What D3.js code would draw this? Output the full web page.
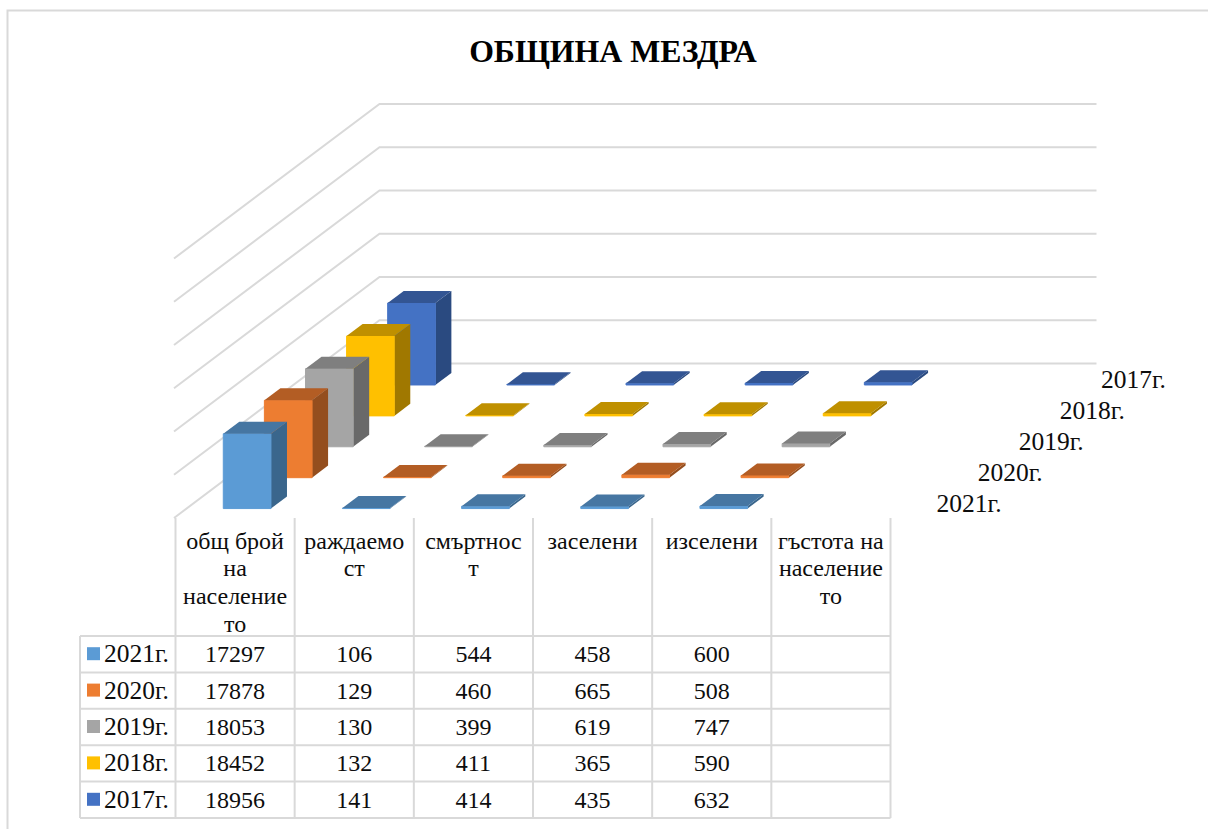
<!DOCTYPE html>
<html><head><meta charset="utf-8">
<script src="https://cdn.jsdelivr.net/npm/d3@7"></script>
<style>html,body{margin:0;padding:0;background:#fff;overflow:hidden}svg{display:block}text{font-family:"Liberation Serif","Times New Roman",serif;fill:#0d0d0d}</style>
</head><body><svg id="c" width="1208" height="829"></svg>
<script>
const title = "ОБЩИНА МЕЗДРА";
const categories = ["общ брой на население то","раждаемо ст","смъртнос т","заселени","изселени","гъстота на население то"];
const categoryLines = [["общ брой","на","население","то"],["раждаемо","ст"],["смъртнос","т"],["заселени"],["изселени"],["гъстота на","население","то"]];
const years = ["2021г.","2020г.","2019г.","2018г.","2017г."];
const v2021 = [17297,106,544,458,600,null];
const v2020 = [17878,129,460,665,508,null];
const v2019 = [18053,130,399,619,747,null];
const v2018 = [18452,132,411,365,590,null];
const v2017 = [18956,141,414,435,632,null];
const seriesValues = [v2021,v2020,v2019,v2018,v2017];
const faceColors = ["#5B9BD5","#ED7D31","#A5A5A5","#FFC000","#4472C4"];
const topColors  = ["#4676A2","#B35D24","#7F7F7F","#BF9000","#335593"];
const sideColors = ["#3A668C","#944E1E","#696969","#A07800","#2A4A80"];
const valueTicks = [0,10000,20000,30000,40000,50000,60000];

const svg = d3.select("#c");
const grid = "#D9D9D9";
const x = d3.scaleBand().domain(categories).range([175,890]).paddingInner(0.6).paddingOuter(0.3);
const step = x.step();
const depth = d3.scaleBand().domain(years).range([0,1]).paddingInner(0.61).paddingOuter(0.305);
const y = d3.scaleLinear().domain([0,60000]).range([0,-259.5]);
const floorY = 518, depthX = 205.5, depthY = -154.5;
const P = (px, d, v) => [px + d*depthX, floorY + d*depthY + y(v)];
const pts = a => a.map(p=>p.join(",")).join(" ");

// frame
svg.append("path").attr("d","M7.5,829V10.5H1208").attr("fill","none").attr("stroke",grid).attr("stroke-width",2);

// title
svg.append("text").attr("x",613).attr("y",62).attr("text-anchor","middle")
  .attr("font-size",31.8).attr("font-weight","bold").style("fill","#000").text(title);

// walls
const wallLeft = x.range()[0]-1;
valueTicks.forEach(t=>{
  const a=P(wallLeft,0,t), b=P(wallLeft,1,t);
  svg.append("polyline").attr("points",pts([a,b,[1096.5,b[1]]]))
    .attr("fill","none").attr("stroke",grid).attr("stroke-width",2);
});

// bars, back to front
[...years.keys()].reverse().forEach(s=>{
  const d0 = depth(years[s]), d1 = d0 + depth.bandwidth();
  seriesValues[s].forEach((v,i)=>{
    if(v==null) return;
    const x0 = x(categories[i]), x1 = x0 + x.bandwidth();
    const g = svg.append("g");
    g.append("polygon").attr("points",pts([P(x1,d0,0),P(x1,d1,0),P(x1,d1,v),P(x1,d0,v)])).attr("fill",sideColors[s]);
    g.append("polygon").attr("points",pts([P(x0,d0,0),P(x1,d0,0),P(x1,d0,v),P(x0,d0,v)])).attr("fill",faceColors[s]).attr("stroke",faceColors[s]).attr("stroke-width",1);
    g.append("polygon").attr("points",pts([P(x0,d0,v),P(x1,d0,v),P(x1,d1,v),P(x0,d1,v)])).attr("fill",topColors[s]);
  });
});

// depth labels
years.forEach(yr=>{
  const d = depth(yr)+depth.bandwidth()/2;
  const p = P(x.range()[1],d,0);
  svg.append("text").attr("x",p[0]+26).attr("y",p[1]+9).attr("font-size",25.5).text(yr);
});

// data table
const colX = d3.range(categories.length+1).map(i=>x.range()[0]+0.5+i*step);
const headTop = 518, rowTop = 636, rowH = 36.4, tableLeft = 80;
const rowY = d3.range(years.length+1).map(i=>rowTop+i*rowH);
const tbl = svg.append("g").attr("stroke",grid).attr("stroke-width",2);
colX.forEach(cx=>tbl.append("line").attr("x1",cx).attr("x2",cx).attr("y1",headTop).attr("y2",rowY[5]));
tbl.append("line").attr("x1",tableLeft).attr("x2",tableLeft).attr("y1",rowTop).attr("y2",rowY[5]);
rowY.forEach(ry=>tbl.append("line").attr("x1",tableLeft).attr("x2",colX[6]).attr("y1",ry).attr("y2",ry));

categoryLines.forEach((lines,i)=>{
  lines.forEach((ln,j)=>{
    svg.append("text").attr("x",colX[i]+step/2).attr("y",548.5+j*27.8).attr("text-anchor","middle").attr("font-size",24).text(ln);
  });
});
years.forEach((yr,s)=>{
  const cy = rowY[s]+rowH/2;
  svg.append("rect").attr("x",87).attr("y",cy-7).attr("width",13).attr("height",13).attr("fill",faceColors[s]);
  svg.append("text").attr("x",104).attr("y",cy+8).attr("font-size",25.5).text(yr);
  seriesValues[s].forEach((v,i)=>{
    if(v==null) return;
    svg.append("text").attr("x",colX[i]+step/2).attr("y",cy+8).attr("text-anchor","middle").attr("font-size",24).text(v);
  });
});
</script></body></html>
